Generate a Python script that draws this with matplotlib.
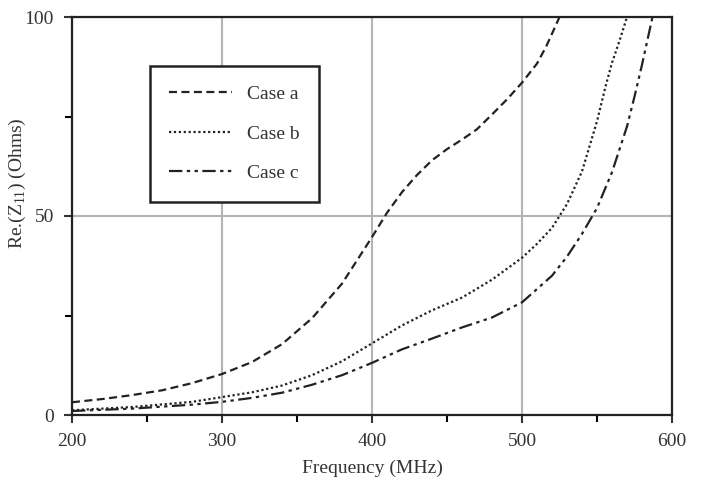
import numpy as np
import matplotlib
matplotlib.use("Agg")
import matplotlib.pyplot as plt
from matplotlib.ticker import MultipleLocator

plt.rcParams["font.family"] = ["Liberation Serif", "DejaVu Serif"]
plt.rcParams["mathtext.fontset"] = "custom"
plt.rcParams["mathtext.rm"] = "Liberation Serif"

# Re(Z11) versus frequency for the three cases
freq_a = [200, 220, 240, 260, 280, 300, 320, 340, 360, 380, 400, 410, 420, 430,
          440, 450, 460, 470, 480, 490, 500, 510, 516, 520, 525]
re_a = [3.2, 4.0, 5.0, 6.2, 8.0, 10.3, 13.3, 17.8, 24.3, 33.0, 44.7, 50.8, 56.0, 60.3,
        64.0, 66.8, 69.2, 71.8, 75.5, 79.3, 83.5, 88.3, 92.5, 95.8, 100.0]

freq_b = [200, 240, 280, 300, 320, 340, 360, 380, 400, 420, 440, 460, 480, 500,
          510, 520, 530, 540, 550, 556, 560, 565, 570]
re_b = [1.2, 2.0, 3.3, 4.5, 5.7, 7.4, 10.0, 13.5, 18.0, 22.5, 26.3, 29.5, 34.0, 39.5,
        43.0, 47.0, 53.0, 61.2, 73.8, 83.0, 88.5, 94.0, 100.0]

freq_c = [200, 240, 280, 300, 320, 340, 360, 380, 400, 420, 440, 460, 480, 500,
          520, 530, 540, 550, 560, 570, 575, 580, 587]
re_c = [1.0, 1.6, 2.6, 3.3, 4.3, 5.6, 7.6, 10.0, 13.1, 16.5, 19.2, 22.0, 24.5, 28.3,
        35.0, 39.8, 45.5, 52.0, 61.0, 72.5, 80.0, 88.0, 100.0]

fig = plt.figure(figsize=(7.03, 4.8), dpi=100)
ax = fig.add_axes([72 / 703, 65 / 480, 600 / 703, 398 / 480])

ax.plot(freq_a, re_a, color="#222222", lw=1.6, dashes=(3.6, 2), label="Case a")
ax.plot(freq_b, re_b, color="#222222", lw=1.6, dashes=(1, 1.2), label="Case b")
ax.plot(freq_c, re_c, color="#222222", lw=1.6, dashes=(6, 2, 1.5, 2, 1.5, 2), label="Case c")

ax.set_xlim(200, 600)
ax.set_ylim(0, 100)
ax.xaxis.set_major_locator(MultipleLocator(100))
ax.xaxis.set_minor_locator(MultipleLocator(50))
ax.yaxis.set_major_locator(MultipleLocator(50))
ax.yaxis.set_minor_locator(MultipleLocator(25))
ax.grid(True, which="major", color="#b4b4b4", lw=1.5)
ax.set_axisbelow(True)

for s in ax.spines.values():
    s.set_linewidth(1.6)
    s.set_color("#222222")
ax.tick_params(which="major", direction="out", length=6, width=1.5, labelsize=14,
               colors="#333333", pad=7)
ax.tick_params(which="minor", direction="out", length=5, width=1.5)

ax.set_xlabel("Frequency (MHz)", fontsize=14, color="#333333", labelpad=7)
ax.set_ylabel(r"Re.(Z$_{\mathregular{11}}$) (Ohms)", fontsize=14, color="#333333")
ax.yaxis.set_label_coords(-0.073, 0.583)

leg = ax.legend(loc="upper left", bbox_to_anchor=(150 / 703, 1 - 66 / 480),
                bbox_transform=fig.transFigure, fancybox=False, framealpha=1,
                edgecolor="#222222", fontsize=14, handlelength=3.2, handletextpad=0.8,
                labelspacing=1.13, borderpad=1.0, borderaxespad=0)
leg.get_frame().set_linewidth(1.8)
for t in leg.get_texts():
    t.set_color("#333333")

fig.savefig("out.png", dpi=100)
